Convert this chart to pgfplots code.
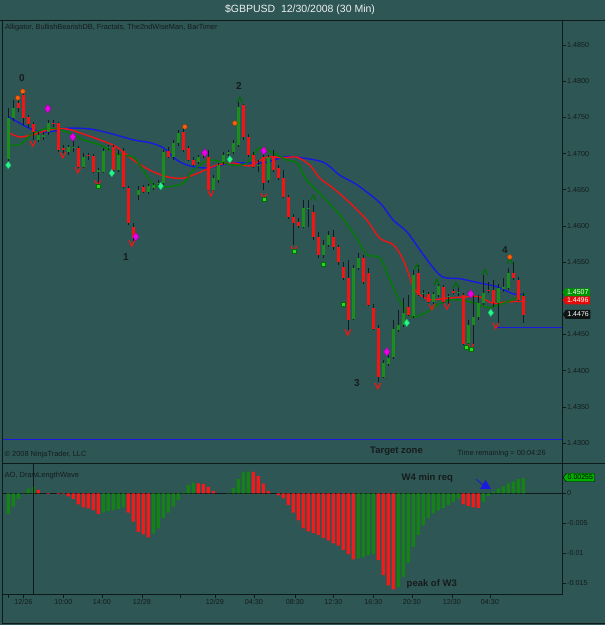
\documentclass[border=0pt]{standalone}
\usepackage{pgfplots}
\usepackage{pgfplotstable}
\pgfplotsset{compat=1.18}
\usepackage{fontspec}
\setmainfont{Liberation Sans}
\usetikzlibrary{shapes.symbols}

\definecolor{bg}{RGB}{45,86,84}
\definecolor{framec}{RGB}{14,26,26}
\definecolor{txt}{RGB}{22,28,28}
\definecolor{cgreen}{RGB}{28,140,28}
\definecolor{cred}{RGB}{245,20,20}
\definecolor{wick}{RGB}{18,28,28}
\definecolor{jaw}{RGB}{25,25,225}
\definecolor{teeth}{RGB}{240,20,20}
\definecolor{lips}{RGB}{0,125,0}
\definecolor{magd}{RGB}{235,0,235}
\definecolor{aqua}{RGB}{40,245,140}
\definecolor{orng}{RGB}{255,95,10}
\definecolor{chev}{RGB}{0,110,0}
\definecolor{sq}{RGB}{40,215,40}
\definecolor{aog}{RGB}{20,130,20}
\definecolor{aor}{RGB}{245,25,25}
\definecolor{tagg}{RGB}{0,150,0}
\definecolor{tagr}{RGB}{230,10,10}
\definecolor{tagk}{RGB}{15,20,20}
\definecolor{tagao}{RGB}{0,175,0}

\pgfdeclareplotmark{vdown}{%
  \pgfpathmoveto{\pgfqpoint{-\pgfplotmarksize}{\pgfplotmarksize}}%
  \pgfpathlineto{\pgfqpoint{0pt}{-\pgfplotmarksize}}%
  \pgfpathlineto{\pgfqpoint{\pgfplotmarksize}{\pgfplotmarksize}}%
  \pgfusepathqstroke}
\pgfdeclareplotmark{vup}{%
  \pgfpathmoveto{\pgfqpoint{-\pgfplotmarksize}{-\pgfplotmarksize}}%
  \pgfpathlineto{\pgfqpoint{0pt}{\pgfplotmarksize}}%
  \pgfpathlineto{\pgfqpoint{\pgfplotmarksize}{-\pgfplotmarksize}}%
  \pgfusepathqstroke}

\pgfplotstableread{
i o h l c
0 1.4692 1.4763 1.4690 1.4749
1 1.4749 1.4774 1.4745 1.4763
2 1.4770 1.4777 1.4757 1.4763
3 1.4781 1.4784 1.4739 1.4749
4 1.4751 1.4753 1.4735 1.4741
5 1.4741 1.4744 1.4719 1.4730
6 1.4719 1.4730 1.4716 1.4726
7 1.4723 1.4730 1.4719 1.4726
8 1.4730 1.4746 1.4726 1.4742
9 1.4742 1.4746 1.4737 1.4741
10 1.4742 1.4744 1.4702 1.4705
11 1.4708 1.4712 1.4701 1.4705
12 1.4702 1.4712 1.4698 1.4709
13 1.4708 1.4717 1.4702 1.4709
14 1.4708 1.4710 1.4680 1.4681
15 1.4681 1.4701 1.4680 1.4695
16 1.4698 1.4701 1.4691 1.4697
17 1.4697 1.4699 1.4673 1.4674
18 1.4674 1.4680 1.4659 1.4677
19 1.4674 1.4708 1.4673 1.4704
20 1.4708 1.4712 1.4705 1.4709
21 1.4709 1.4712 1.4674 1.4677
22 1.4677 1.4705 1.4674 1.4698
23 1.4704 1.4708 1.4652 1.4654
24 1.4652 1.4655 1.4601 1.4604
25 1.4598 1.4604 1.4579 1.4583
26 1.4643 1.4655 1.4636 1.4650
27 1.4654 1.4657 1.4645 1.4647
28 1.4647 1.4658 1.4644 1.4655
29 1.4652 1.4659 1.4650 1.4657
30 1.4658 1.4663 1.4654 1.4659
31 1.4659 1.4705 1.4655 1.4702
32 1.4704 1.4709 1.4694 1.4695
33 1.4695 1.4719 1.4691 1.4715
34 1.4715 1.4733 1.4710 1.4728
35 1.4730 1.4735 1.4702 1.4705
36 1.4708 1.4710 1.4690 1.4691
37 1.4691 1.4695 1.4683 1.4684
38 1.4688 1.4698 1.4686 1.4695
39 1.4697 1.4705 1.4694 1.4698
40 1.4695 1.4705 1.4648 1.4650
41 1.4650 1.4670 1.4647 1.4666
42 1.4663 1.4687 1.4659 1.4684
43 1.4688 1.4702 1.4684 1.4698
44 1.4699 1.4705 1.4697 1.4702
45 1.4702 1.4719 1.4699 1.4715
46 1.4712 1.4771 1.4709 1.4764
47 1.4767 1.4768 1.4719 1.4723
48 1.4723 1.4727 1.4695 1.4698
49 1.4698 1.4702 1.4680 1.4681
50 1.4683 1.4691 1.4674 1.4684
51 1.4695 1.4705 1.4650 1.4659
52 1.4663 1.4698 1.4659 1.4695
53 1.4697 1.4705 1.4674 1.4677
54 1.4680 1.4684 1.4663 1.4666
55 1.4666 1.4677 1.4639 1.4640
56 1.4640 1.4643 1.4610 1.4612
57 1.4612 1.4616 1.4574 1.4604
58 1.4605 1.4611 1.4597 1.4600
59 1.4598 1.4636 1.4597 1.4625
60 1.4624 1.4636 1.4598 1.4625
61 1.4619 1.4629 1.4581 1.4585
62 1.4585 1.4592 1.4556 1.4560
63 1.4560 1.4581 1.4556 1.4574
64 1.4574 1.4593 1.4571 1.4587
65 1.4585 1.4594 1.4567 1.4571
66 1.4571 1.4574 1.4546 1.4550
67 1.4543 1.4550 1.4525 1.4528
68 1.4528 1.4553 1.4456 1.4470
69 1.4471 1.4546 1.4470 1.4542
70 1.4542 1.4563 1.4539 1.4556
71 1.4556 1.4560 1.4520 1.4522
72 1.4535 1.4542 1.4489 1.4491
73 1.4487 1.4492 1.4456 1.4458
74 1.4459 1.4463 1.4384 1.4391
75 1.4391 1.4415 1.4390 1.4411
76 1.4409 1.4422 1.4406 1.4417
77 1.4419 1.4470 1.4416 1.4458
78 1.4456 1.4484 1.4453 1.4463
79 1.4463 1.4500 1.4460 1.4480
80 1.4488 1.4505 1.4475 1.4477
81 1.4475 1.4539 1.4473 1.4532
82 1.4535 1.4546 1.4503 1.4505
83 1.4506 1.4511 1.4500 1.4507
84 1.4506 1.4509 1.4493 1.4495
85 1.4495 1.4509 1.4492 1.4506
86 1.4505 1.4521 1.4502 1.4517
87 1.4516 1.4518 1.4493 1.4495
88 1.4502 1.4506 1.4492 1.4503
89 1.4510 1.4513 1.4506 1.4507
90 1.4507 1.4517 1.4503 1.4509
91 1.4505 1.4507 1.4435 1.4437
92 1.4438 1.4470 1.4434 1.4463
93 1.4463 1.4503 1.4435 1.4474
94 1.4474 1.4505 1.4470 1.4493
95 1.4493 1.4532 1.4491 1.4507
96 1.4511 1.4522 1.4507 1.4510
97 1.4511 1.4525 1.4488 1.4493
98 1.4493 1.4520 1.4466 1.4514
99 1.4513 1.4528 1.4509 1.4515
100 1.4514 1.4542 1.4511 1.4535
101 1.4535 1.4550 1.4525 1.4528
102 1.4525 1.4529 1.4496 1.4498
103 1.4503 1.4507 1.4466 1.4477
}\candles

\pgfplotstableread{
i p
0 1.4751
4.9 1.4733
8.3 1.4730
11.7 1.4735
16.3 1.4734
20.3 1.4728
25 1.4719
28.3 1.4715
31 1.4708
33.7 1.4691
36.3 1.4683
39.7 1.4680
42.3 1.4684
45 1.4687
49 1.4687
51.7 1.4688
55 1.4695
57.7 1.4695
63 1.4688
66.3 1.4670
69.7 1.4657
74.3 1.4632
77 1.4608
79.7 1.4592
82.3 1.4567
85 1.4542
87 1.4529
90.3 1.4527
94.3 1.4521
97.7 1.4516
101 1.4506
103.3 1.4505
}\jawtab

\pgfplotstableread{
i p
0.3 1.4728
2.3 1.4723
4.9 1.4726
8.3 1.4733
11.7 1.4734
15 1.4727
18.3 1.4719
21.7 1.4709
25 1.4691
28.3 1.4677
31.7 1.4668
35 1.4666
38.3 1.4674
41.7 1.4684
45 1.4687
48.3 1.4683
51.7 1.4695
55 1.4694
57.7 1.4695
60.3 1.4684
62.3 1.4666
65 1.4652
68.3 1.4632
71.7 1.4608
74.3 1.4583
77 1.4574
79 1.4553
81 1.4516
82.3 1.4505
84.3 1.4498
87.7 1.4500
91.7 1.4502
94.3 1.4502
96.9 1.4493
99.7 1.4495
103.3 1.4496
}\teethtab

\pgfplotstableread{
i p
0.3 1.4712
2.3 1.4712
4.9 1.4728
8.3 1.4735
11.7 1.4730
15 1.4719
18.3 1.4712
21.7 1.4699
25 1.4695
27 1.4677
29 1.4657
31.7 1.4654
35 1.4659
37 1.4677
40.3 1.4691
45 1.4684
47.7 1.4687
50.3 1.4708
52.9 1.4701
55.7 1.4691
57.7 1.4687
59.7 1.4663
62.3 1.4645
66.3 1.4615
69.7 1.4583
71.7 1.4560
74.3 1.4556
76.3 1.4525
79 1.4487
81 1.4474
83.7 1.4481
86.3 1.4493
88.9 1.4498
91.7 1.4496
94.3 1.4491
96.3 1.4487
99.7 1.4495
102.3 1.4502
103.3 1.4506
}\lipstab

\pgfplotstableread{
i v
0 -0.0034
1 -0.0022
2 -0.0009
3 0.0001
4 0.0008
5 0.0011
19 -0.0032
20 -0.0029
21 -0.0028
22 -0.0026
23 -0.0023
29 -0.0067
30 -0.0058
31 -0.0041
32 -0.0032
33 -0.0022
34 -0.0011
35 0.0002
36 0.0014
37 0.0018
44 0.0001
45 0.0009
46 0.0024
47 0.0035
48 0.0037
70 -0.0108
71 -0.0106
72 -0.0103
73 -0.0101
78 -0.0156
79 -0.0139
80 -0.0116
81 -0.0089
82 -0.0069
83 -0.0053
84 -0.0041
85 -0.0033
86 -0.0028
87 -0.0024
88 -0.0019
89 -0.0014
90 -0.0008
95 -0.0014
96 -0.0004
97 0.0003
98 0.0008
99 0.0012
100 0.0017
101 0.0020
102 0.0024
103 0.00255
}\aogreen

\pgfplotstableread{
i v
6 0.0006
8 -0.0001
10 -0.0001
11 -0.0001
12 -0.0005
13 -0.0009
14 -0.0018
15 -0.0023
16 -0.0025
17 -0.0028
18 -0.0034
24 -0.0032
25 -0.0047
26 -0.0064
27 -0.0068
28 -0.0073
38 0.0017
39 0.0016
40 0.0011
41 0.0004
49 0.0036
50 0.0029
51 0.0017
52 0.0004
54 -0.0003
55 -0.0008
56 -0.0019
57 -0.0032
58 -0.0045
59 -0.0058
60 -0.0063
61 -0.0066
62 -0.0069
63 -0.0074
64 -0.0078
65 -0.0083
66 -0.0087
67 -0.0094
68 -0.0101
69 -0.0110
74 -0.0111
75 -0.0136
76 -0.0153
77 -0.0160
91 -0.0018
92 -0.0021
93 -0.0023
94 -0.0024
}\aored

\begin{document}
\begin{tikzpicture}
\useasboundingbox (0pt,0pt) rectangle (605pt,625pt);
\fill[bg] (0pt,0pt) rectangle (605pt,625pt);

% ---------------- price panel ----------------
\begin{axis}[
  at={(2pt,605pt)}, anchor=north west,
  width=560pt, height=443pt, scale only axis,
  xmin=-1.26, xmax=110.74, ymin=1.42723, ymax=1.48846,
  axis line style={draw=framec, line width=0.7pt},
  xtick=\empty,
  ytick={1.430,1.435,1.440,1.445,1.455,1.460,1.465,1.470,1.475,1.480,1.485},
  ytick pos=right, yticklabel pos=right,
  tick align=outside, major tick length=4pt,
  tick style={draw=framec, line width=0.5pt},
  scaled y ticks=false,
  /pgf/number format/assume math mode=true,
  yticklabel style={font=\fontsize{7.2}{8}\selectfont, text=txt, inner sep=1pt,
    /pgf/number format/fixed, /pgf/number format/fixed zerofill, /pgf/number format/precision=4},
]
% target / reference lines
\addplot[jaw, line width=0.9pt] coordinates {(-1.26,1.43051) (110.74,1.43051)};
\addplot[jaw, line width=0.9pt] coordinates {(97.7,1.44593) (110.74,1.44593)};
% alligator
\addplot[jaw, line width=1.4pt, smooth] table[x=i,y=p] {\jawtab};
\addplot[teeth, line width=1.4pt, smooth] table[x=i,y=p] {\teethtab};
\addplot[lips, line width=1.4pt, smooth] table[x=i,y=p] {\lipstab};
% wicks
\addplot[wick, line width=0.8pt, quiver={u=0, v={\thisrow{h}-\thisrow{l}}}] table[x=i,y=l] {\candles};
% bodies: dark edge then colour
\addplot[wick, line width=3.6pt, quiver={u=0, v={abs(\thisrow{c}-\thisrow{o})}}] table[x=i,y expr={min(\thisrow{o},\thisrow{c})}] {\candles};
\addplot[cgreen, line width=2.6pt, quiver={u=0, v={max(\thisrow{c}-\thisrow{o},0)}}] table[x=i,y=o] {\candles};
\addplot[cred, line width=2.6pt, quiver={u=0, v={max(\thisrow{o}-\thisrow{c},0)}}] table[x=i,y=c] {\candles};
% fractal markers
\addplot[only marks, cred, mark=vdown, mark size=2.8pt, mark options={line width=1.2pt}] coordinates {
(4.9,1.4714) (10.9,1.4698) (13.9,1.4677) (17.9,1.4659) (24.7,1.4576) (40.5,1.4645) (51.1,1.4641) (57.1,1.4568) (67.9,1.4453) (73.9,1.4379) (84.7,1.4488) (87.7,1.4489) (92.5,1.4433) (97.5,1.4462)};
\addplot[only marks, chev, mark=vup, mark size=2.8pt, mark options={line width=1.1pt}] coordinates {
(46.3,1.4774) (61,1.4639) (81.7,1.4543) (85.7,1.4522) (89.5,1.4518) (95.3,1.4536) (100.3,1.4551)};
\addplot[only marks, mark=square*, mark size=2pt, mark options={fill=sq, draw=chev}] coordinates {
(17.9,1.4655) (51.1,1.4637) (57.1,1.4565) (63,1.4547) (67,1.4492) (91.5,1.4432) (92.5,1.4429)};
\addplot[only marks, mark=*, mark size=2.4pt, mark options={fill=orng, draw=orng!60!black}] coordinates {
(1.9,1.4777) (2.9,1.4786) (35.3,1.4737) (45.3,1.4742) (100.3,1.4557)};
\addplot[only marks, mark=diamond*, mark size=4.2pt, mark options={fill=magd, draw=magd!70!black}] coordinates {
(7.9,1.4762) (12.9,1.4723) (25.5,1.4585) (39.3,1.4701) (51.1,1.4704) (75.7,1.4426) (92.5,1.4506)};
\addplot[only marks, mark=diamond*, mark size=3.8pt, mark options={fill=aqua, draw=aqua!70!black}] coordinates {
(0,1.4684) (20.7,1.4673) (30.5,1.4655) (44.3,1.4692) (79.7,1.4466) (96.5,1.4480)};
\end{axis}

% ---------------- AO panel ----------------
\begin{axis}[
  at={(2pt,162pt)}, anchor=north west,
  width=560pt, height=131pt, scale only axis,
  xmin=-1.26, xmax=110.74, ymin=-0.01675, ymax=0.00508,
  axis line style={draw=framec, line width=0.7pt},
  xtick={0,3,11,18.7,26.7,34.4,41.3,49.1,57.3,65,73,80.7,88.7,96.3},
  xticklabels={{},12/26,10:00,14:00,12/28,{},12/29,04:30,08:30,12:30,16:30,20:30,12/30,04:30},
  ytick={-0.015,-0.01,-0.005,0},
  yticklabels={-0.015,-0.01,-0.005,0},
  xtick pos=bottom, ytick pos=right, yticklabel pos=right,
  tick align=outside, major tick length=4pt,
  tick style={draw=framec, line width=0.5pt},
  scaled y ticks=false,
  xticklabel style={font=\fontsize{7.2}{8}\selectfont, text=txt, inner sep=1pt},
  yticklabel style={font=\fontsize{7.2}{8}\selectfont, text=txt, inner sep=1pt},
]
\addplot[framec, line width=0.5pt] coordinates {(-1.26,0) (110.74,0)};
\addplot[ybar, bar width=3.2pt, bar shift=0pt, fill=aog, draw=none] table[x=i,y=v] {\aogreen};
\addplot[ybar, bar width=3.2pt, bar shift=0pt, fill=aor, draw=none] table[x=i,y=v] {\aored};
\addplot[framec, line width=0.6pt] coordinates {(4.94,-0.01675) (4.94,0.00508)};
\end{axis}

% frame lines
\draw[framec, line width=0.7pt] (0pt,605pt) -- (605pt,605pt);
\draw[framec, line width=0.7pt] (2pt,162pt) -- (605pt,162pt);
\draw[framec, line width=0.7pt] (2pt,1.5pt) -- (605pt,1.5pt);
\draw[framec, line width=0.7pt] (2pt,1.5pt) -- (2pt,605pt);

% texts
\node[text=white!92!bg, font=\fontsize{10.5}{12}\selectfont] at (300pt,615pt) {\$GBPUSD\ \ 12/30/2008 (30 Min)};
\node[anchor=west, text=txt, font=\fontsize{7.4}{8}\selectfont, inner sep=0pt] at (5pt,597.5pt) {Alligator, BullishBearishDB, Fractals, The2ndWiseMan, BarTimer};
\node[anchor=west, text=txt, font=\fontsize{7.4}{8}\selectfont, inner sep=0pt] at (4.5pt,170pt) {\textcopyright\ 2008 NinjaTrader, LLC};
\node[anchor=west, text=txt, font=\bfseries\fontsize{9.5}{11}\selectfont, inner sep=0pt] at (370pt,174pt) {Target zone};
\node[anchor=west, text=txt, font=\fontsize{7.4}{8}\selectfont, inner sep=0pt] at (457.5pt,171.5pt) {Time remaining = 00:04:26};
\node[anchor=west, text=txt, font=\fontsize{7.5}{8}\selectfont, inner sep=0pt] at (4.5pt,149pt) {AO, DrawLengthWave};
\node[anchor=west, text=txt, font=\bfseries\fontsize{9.5}{11}\selectfont, inner sep=0pt] at (401.5pt,147pt) {W4 min req};
\node[anchor=west, text=txt, font=\bfseries\fontsize{9.5}{11}\selectfont, inner sep=0pt] at (406.5pt,40.5pt) {peak of W3};
\node[text=txt, font=\bfseries\fontsize{10}{12}\selectfont, inner sep=0pt] at (22pt,547pt) {0};
\node[text=txt, font=\bfseries\fontsize{10}{12}\selectfont, inner sep=0pt] at (239pt,538.5pt) {2};
\node[text=txt, font=\bfseries\fontsize{10}{12}\selectfont, inner sep=0pt] at (126pt,367.5pt) {1};
\node[text=txt, font=\bfseries\fontsize{10}{12}\selectfont, inner sep=0pt] at (357pt,241.5pt) {3};
\node[text=txt, font=\bfseries\fontsize{10}{12}\selectfont, inner sep=0pt] at (505pt,375pt) {4};
% blue arrow marker
\draw[jaw, line width=0.8pt] (476pt,146pt) -- (483pt,140pt);
\fill[jaw] (480pt,136pt) -- (491pt,136pt) -- (485.5pt,145pt) -- cycle;

% price tags
\node[signal, signal to=west, signal pointer angle=110, fill=tagg, text=white, font=\fontsize{7}{8}\selectfont, inner xsep=1.5pt, inner ysep=0.3pt, minimum height=8pt, anchor=west] at (562.5pt,332.5pt) {1.4507};
\node[signal, signal to=west, signal pointer angle=110, fill=tagr, text=white, font=\fontsize{7}{8}\selectfont, inner xsep=1.5pt, inner ysep=0.3pt, minimum height=8pt, anchor=west] at (562.5pt,324.7pt) {1.4496};
\node[signal, signal to=west, signal pointer angle=110, fill=tagk, text=white, font=\fontsize{7}{8}\selectfont, inner xsep=1.5pt, inner ysep=0.3pt, minimum height=9pt, anchor=west] at (562.5pt,310.5pt) {1.4476};
\node[signal, signal to=west, signal pointer angle=110, fill=tagao, draw=black, line width=0.4pt, text=black, font=\fontsize{7}{8}\selectfont, inner xsep=1.5pt, inner ysep=0.3pt, minimum height=8.5pt, anchor=west] at (563pt,147.5pt) {0.00255};
\end{tikzpicture}
\end{document}
